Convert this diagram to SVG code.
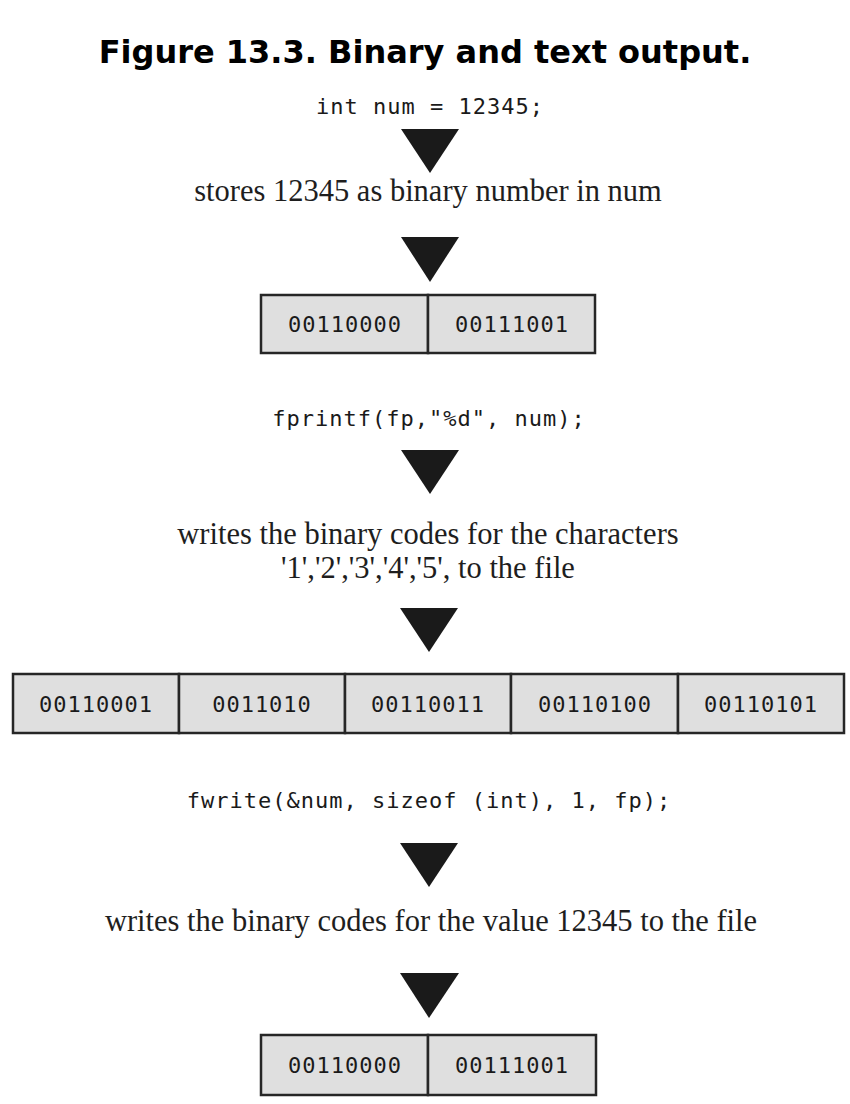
<svg xmlns="http://www.w3.org/2000/svg" width="850" height="1104" viewBox="0 0 850 1104">
<style>
.title{font-family:"DejaVu Sans","Verdana",sans-serif;font-weight:bold;font-size:32px;fill:#000;text-anchor:middle}
.code{font-family:"DejaVu Sans Mono","Liberation Mono",monospace;font-size:22px;letter-spacing:1px;fill:#1a1a1a;text-anchor:middle}
.serif{font-family:"Liberation Serif","Times New Roman",serif;font-size:30.5px;fill:#1e1e1e;text-anchor:middle}
.cell{fill:#dfdfdf;stroke:#262626;stroke-width:2.5}
.arrow{fill:#1a1a1a}
</style>
<rect width="850" height="1104" fill="#fff"/>
<g id="title"><text class="title" x="425" y="63">Figure 13.3. Binary and text output.</text></g>

<g id="decl"><text class="code" x="430" y="114">int num = 12345;</text></g>
<g id="stores"><text class="serif" x="428" y="201">stores 12345 as binary number in num</text></g>
<g id="mem1">
<rect class="cell" x="261" y="295" width="167" height="58"/>
<rect class="cell" x="428" y="295" width="167" height="58"/>
<text class="code" x="345" y="332">00110000</text>
<text class="code" x="512" y="332">00111001</text>
</g>
<g id="fprintf"><text class="code" x="429" y="426">fprintf(fp,"%d", num);</text></g>
<g id="writes-chars">
<text class="serif" x="428" y="544">writes the binary codes for the characters</text>
<text class="serif" x="428" y="578">'1','2','3','4','5', to the file</text>
</g>
<g id="file-text">
<rect class="cell" x="13" y="674" width="166" height="59"/>
<rect class="cell" x="179" y="674" width="166" height="59"/>
<rect class="cell" x="345" y="674" width="166" height="59"/>
<rect class="cell" x="511" y="674" width="167" height="59"/>
<rect class="cell" x="678" y="674" width="166" height="59"/>
<text class="code" x="96" y="712">00110001</text>
<text class="code" x="262" y="712">0011010</text>
<text class="code" x="428" y="712">00110011</text>
<text class="code" x="595" y="712">00110100</text>
<text class="code" x="761" y="712">00110101</text>
</g>
<g id="fwrite"><text class="code" x="429" y="808">fwrite(&amp;num, sizeof (int), 1, fp);</text></g>
<g id="writes-value"><text class="serif" x="431" y="931">writes the binary codes for the value 12345 to the file</text></g>
<g id="file-binary">
<rect class="cell" x="261" y="1035" width="167" height="60"/>
<rect class="cell" x="428" y="1035" width="168" height="60"/>
<text class="code" x="345" y="1073">00110000</text>
<text class="code" x="512" y="1073">00111001</text>
</g>

<g id="connectors">
<polygon class="arrow" points="401,129 459,129 430,173"/>
<polygon class="arrow" points="401,237 459,237 430,282"/>
<polygon class="arrow" points="401,450 459,450 430,494"/>
<polygon class="arrow" points="400,608 458,608 429,652"/>
<polygon class="arrow" points="400,843 458,843 429,887"/>
<polygon class="arrow" points="400,973 459,973 429,1018"/>
</g>
</svg>
